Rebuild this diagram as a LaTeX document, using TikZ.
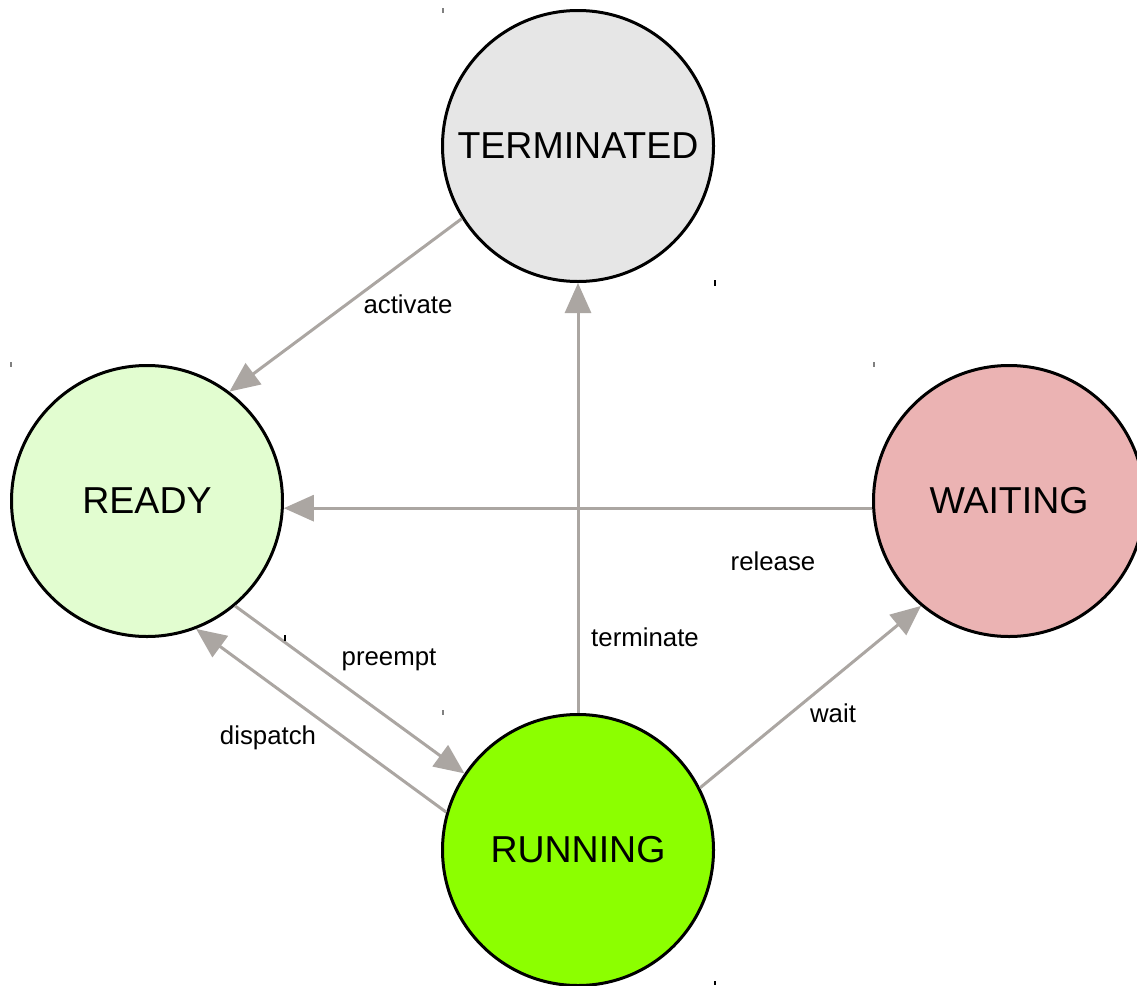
\documentclass[tikz,border=0pt]{standalone}
\usepackage{fontspec}
\setmainfont{Liberation Sans}
\usetikzlibrary{arrows.meta}
\definecolor{edgegray}{HTML}{ABA6A2}
\definecolor{termfill}{HTML}{E6E6E6}
\definecolor{readyfill}{HTML}{E2FDD0}
\definecolor{waitfill}{HTML}{EBB3B3}
\definecolor{runfill}{HTML}{8CFF00}
\begin{document}
\begin{tikzpicture}[x=1pt,y=-1pt,
  state/.style={circle,draw=black,line width=3pt,minimum size=271pt,inner sep=0pt,
    font=\fontsize{37.5}{41}\selectfont},
  trans/.style={draw=edgegray,line width=3pt,-{Triangle[length=30pt,width=26pt]}},
  tlabel/.style={font=\fontsize{25.8}{29}\selectfont,inner sep=0pt},
  cornermark/.style={line width=2pt}]
\useasboundingbox (0,0) rectangle (1137,985);

% states
\node[state,fill=termfill]  (term)  at (578,146) {TERMINATED};
\node[state,fill=readyfill] (ready) at (147,501) {READY};
\node[state,fill=waitfill]  (wait)  at (1009,501) {WAITING};
\node[state,fill=runfill]   (run)   at (578,850) {RUNNING};

% transitions
\draw[trans] (term.212.5) -- (ready.53);
\draw[trans] (wait.183.8) -- (ready.-3.8);
\draw[trans] (run.north) -- (term.south);
\draw[trans] (ready.-50) -- (run.146);
\draw[trans] (run.164.4) -- (ready.-69.3);
\draw[trans] (run.27) -- (wait.230);

% transition labels
\node[tlabel] (lact)  at (408,304) {activate};
\node[tlabel] (lrel)  at (773,561) {release};
\node[tlabel] (lterm) at (645,637) {terminate};
\node[tlabel] (lpre)  at (389,660) {preempt};
\node[tlabel] (ldis)  at (268,738) {dispatch};
\node[tlabel] (lwait) at (833,713) {wait};

% small corner marks
\draw[cornermark,gray]  (443,8) -- (443,13);
\draw[cornermark,black] (715,280) -- (715,286);
\draw[cornermark,gray]  (11,362) -- (11,367);
\draw[cornermark,gray]  (874,362) -- (874,367);
\draw[cornermark,black] (285,635) -- (285,641);
\draw[cornermark,gray]  (443,710) -- (443,715);
\draw[cornermark,black] (715,981) -- (715,985);
\end{tikzpicture}
\end{document}
